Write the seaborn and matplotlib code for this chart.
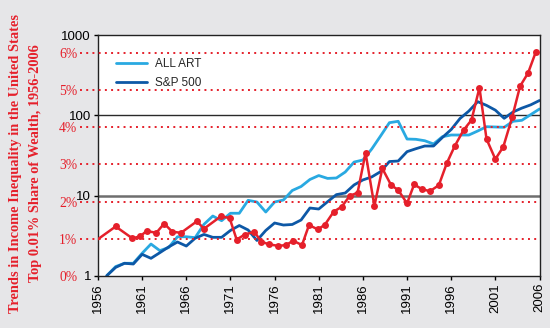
import matplotlib
matplotlib.use("Agg")
import matplotlib.pyplot as plt
import matplotlib.ticker as mticker
import numpy as np
import pandas as pd
import seaborn as sns

# ---------------- data ----------------
years = list(range(1957, 2007))
all_art = [1.01, 1.31, 1.44, 1.44, 1.92, 2.50, 2.07, 2.26, 3.08, 3.08,
           3.00, 4.40, 5.58, 4.88, 6.04, 6.04, 8.75, 8.34, 6.26, 8.34,
           8.83, 11.6, 13.0, 15.9, 17.8, 16.4, 16.6, 19.7, 26.2, 27.8,
           38.1, 55.3, 81.0, 84.3, 50.7, 50.3, 48.3, 44.0, 54.2, 56.9,
           56.9, 56.9, 63.8, 72.2, 71.6, 71.0, 84.3, 86.7, 102.0, 120.0]
sp500 = [1.01, 1.28, 1.44, 1.41, 1.86, 1.66, 1.95, 2.30, 2.65, 2.36,
         2.95, 3.29, 3.03, 3.03, 3.69, 4.25, 3.74, 2.77, 3.69, 4.57,
         4.31, 4.38, 4.98, 7.02, 6.82, 8.41, 10.3, 10.8, 13.6, 15.7,
         17.1, 19.9, 26.6, 27.0, 35.3, 38.4, 41.5, 41.5, 53.0, 66.6,
         91.4, 113.0, 148.0, 133.0, 116.0, 91.8, 110.0, 123.0, 135.0, 153.0]

# Top 0.01% share of wealth (overlay series, %), positions as drawn
share_year = [1956.0, 1958.0, 1959.9, 1960.8, 1961.5, 1962.6, 1963.5, 1964.4, 1965.4, 1967.2,
              1968.0, 1969.9, 1970.9, 1971.7, 1972.6, 1973.7, 1974.5, 1975.4, 1976.4, 1977.3,
              1978.1, 1979.1, 1979.9, 1980.9, 1981.7, 1982.7, 1983.6, 1984.5, 1985.4, 1986.3,
              1987.3, 1988.2, 1989.2, 1990.0, 1991.0, 1991.8, 1992.7, 1993.6, 1994.6, 1995.5,
              1996.4, 1997.4, 1998.3, 1999.2, 2000.0, 2001.0, 2001.9, 2002.9, 2003.8, 2004.7,
              2005.6]
share_pct = [0.99, 1.33, 1.01, 1.07, 1.21, 1.16, 1.41, 1.19, 1.16, 1.47,
             1.27, 1.60, 1.56, 0.98, 1.11, 1.19, 0.92, 0.85, 0.81, 0.83,
             0.95, 0.83, 1.37, 1.25, 1.38, 1.73, 1.86, 2.15, 2.24, 3.31,
             1.88, 2.89, 2.44, 2.31, 1.95, 2.46, 2.33, 2.28, 2.44, 3.03,
             3.49, 3.92, 4.19, 5.06, 3.68, 3.14, 3.47, 4.26, 5.10, 5.45,
             6.03]

xticks = list(range(1956, 2007, 5))
log_ticks = [1, 10, 100, 1000]
log_labels = ["1", "10", "100", "1000"]
pct_ticks = [0, 1, 2, 3, 4, 5, 6]
pct_labels = ["0%", "1%", "2%", "3%", "4%", "5%", "6%"]

series_labels = ["ALL ART", "S&P 500"]
ylabel_line1 = "Trends in Income Inequality in the United States"
ylabel_line2 = "Top 0.01% Share of Wealth, 1956-2006"

# ---------------- style ----------------
sns.set_style("white")
plt.rcParams["font.family"] = ["Liberation Sans", "DejaVu Sans"]

LIGHT = "#29A9E1"
DARK = "#0D58A6"
RED = "#E5202B"
BG = "#E6E6E8"

fig = plt.figure(figsize=(5.5, 3.28), dpi=100, facecolor=BG)
ax = fig.add_axes([98 / 550, 1 - 276 / 328, 441.5 / 550, 241 / 328])
ax.set_facecolor("white")

df = pd.DataFrame({"year": years, "ALL ART": all_art, "S&P 500": sp500})
sns.lineplot(data=df, x="year", y="ALL ART", ax=ax, color=LIGHT, lw=2.0,
             label=series_labels[0])
sns.lineplot(data=df, x="year", y="S&P 500", ax=ax, color=DARK, lw=2.0,
             label=series_labels[1])

ax.set_yscale("log")
ax.set_ylim(1, 1000)
ax.set_xlim(1956, 2006)
ax.set_yticks(log_ticks)
ax.set_yticklabels(log_labels)
ax.yaxis.set_minor_locator(mticker.NullLocator())
ax.set_xticks(xticks)
ax.set_xticklabels([str(t) for t in xticks], rotation=90)
ax.tick_params(axis="both", which="major", direction="out", length=3,
               width=1, color="black", labelsize=9.5, labelcolor="black", pad=2)
ax.tick_params(axis="y", left=True)
ax.tick_params(axis="x", bottom=True)
ax.set_xlabel("")
ax.set_ylabel("")

ax.axhline(10, color="#6E6E6E", lw=1.8, zorder=1)
ax.axhline(100, color="#2A2A2A", lw=1.0, zorder=1)

for s in ax.spines.values():
    s.set_color("#222222")
    s.set_linewidth(1.0)

leg = ax.legend(loc="upper left", bbox_to_anchor=(0.041, 0.903), frameon=False,
                fontsize=8.5, handlelength=2.6, handletextpad=0.7,
                labelspacing=0.55, borderpad=0, borderaxespad=0)

# ---------------- overlay: share of wealth ----------------
ax2 = ax.twinx()
ax2.set_ylim(0, 241 / 37.22)
ax2.set_xlim(1956, 2006)
for s in ax2.spines.values():
    s.set_visible(False)
ax2.yaxis.tick_left()
ax2.set_yticks(pct_ticks)
ax2.set_yticklabels(pct_labels, family=["Liberation Serif", "DejaVu Serif"])
ax2.tick_params(axis="y", length=0, pad=15, labelsize=9.8, labelcolor=RED)
ax2.tick_params(axis="y", right=False, labelright=False)
ax2.set_ylabel("")

trans = ax2.get_yaxis_transform()
for t in pct_ticks[1:]:
    ax2.plot([-0.04, 1.0], [t, t], transform=trans, color=RED, lw=1.4,
             ls=(0, (1, 2.2)), clip_on=False, zorder=2)

sdf = pd.DataFrame({"year": share_year, "pct": share_pct})
sns.lineplot(data=sdf, x="year", y="pct", ax=ax2, color=RED, lw=1.8,
             marker="o", markersize=5, markeredgewidth=0, sort=False,
             markevery=list(range(1, len(share_year))), legend=False, zorder=5)
ax2.set_ylabel("")
ax2.set_xlabel("")

# two-line vertical title on the left
fig.text(16 / 550, 0.503, ylabel_line1, rotation=90, ha="center", va="center",
         color=RED, fontsize=10.4, fontweight="bold",
         family=["Liberation Serif", "DejaVu Serif"])
fig.text(36 / 550, 0.503, ylabel_line2, rotation=90, ha="center", va="center",
         color=RED, fontsize=10.4, fontweight="bold",
         family=["Liberation Serif", "DejaVu Serif"])

fig.savefig("out.png", dpi=100, facecolor=BG)
